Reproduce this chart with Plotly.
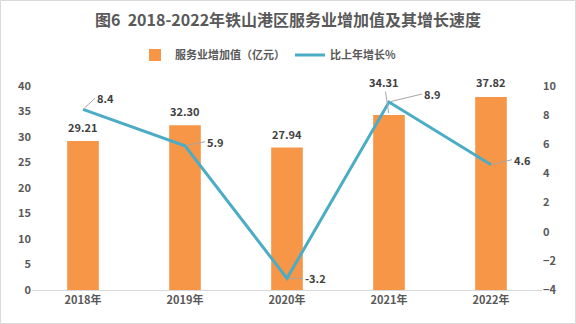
import plotly.graph_objects as go

years = ["2018年", "2019年", "2020年", "2021年", "2022年"]
value_added = [29.21, 32.30, 27.94, 34.31, 37.82]
growth = [8.4, 5.9, -3.2, 8.9, 4.6]

W, H = 576, 324
ML, MR, MT, MB = 32, 34, 86, 34
PW, PH = W - ML - MR, H - MT - MB

def px_x(px):
    return (px - ML) / PW

def px_y(py):
    return (H - MB - py) / PH

FONT = "Noto Sans CJK SC"
GRAY = "#595959"
LBL = "#404040"
BAR = "#F79646"
LINE = "#4BACC6"

def f(size, color=GRAY):
    return dict(size=size, color=color, family=FONT, weight="bold")

fig = go.Figure()
fig.add_trace(go.Bar(
    x=years, y=value_added, name="<b>服务业增加值（亿元）</b>",
    marker=dict(color=BAR, line=dict(width=0)), width=0.31,
    cliponaxis=False,
))
fig.add_trace(go.Scatter(
    x=years, y=growth, name="<b>比上年增长%</b>", yaxis="y2",
    mode="lines", line=dict(color=LINE, width=3),
))

# bar value labels (offsets in px)
bar_offsets = [(0, -14), (0, -14), (0, -14), (-5, -33), (0, -15)]
for xv, yv, (ax, ay) in zip(years, value_added, bar_offsets):
    if ay < -20:
        fig.add_annotation(
            x=xv, y=yv, xref="x", yref="y", text=f"{yv:.2f}",
            showarrow=True, arrowhead=0, arrowwidth=1, arrowcolor="#A6A6A6",
            ax=ax, ay=ay, standoff=2, font=f(11, LBL),
        )
    else:
        fig.add_annotation(
            x=xv, y=yv, xref="x", yref="y", text=f"{yv:.2f}",
            showarrow=False, yshift=-ay, xshift=ax, font=f(11, LBL),
        )

# leader-line labels for growth series (offsets in px)
offsets = [(12, -11), (20, -4), (16, 0), (33, -8), (21, -5)]
for xv, yv, (ax, ay) in zip(years, growth, offsets):
    fig.add_annotation(
        x=xv, y=yv, xref="x", yref="y2", text=f"{yv}",
        showarrow=True, arrowhead=0, arrowwidth=1, arrowcolor="#A6A6A6",
        ax=ax, ay=ay, xanchor="left", standoff=2,
        font=f(11, LBL),
    )

fig.add_shape(type="rect", xref="paper", yref="paper",
              x0=px_x(0.5), x1=px_x(575.5), y0=px_y(323.5), y1=px_y(0.5),
              line=dict(color="#D9D9D9", width=1), layer="below")

fig.update_layout(
    width=W, height=H,
    margin=dict(l=ML, r=MR, t=MT, b=MB),
    paper_bgcolor="white", plot_bgcolor="white",
    font=dict(family=FONT, color=GRAY, size=11),
    title=dict(text="<b>图6  2018-2022年铁山港区服务业增加值及其增长速度</b>",
               x=0.5, xanchor="center", y=1 - 20 / H, yanchor="middle",
               font=dict(size=16, color=GRAY, family=FONT)),
    legend=dict(orientation="h", x=px_x(268), xanchor="center", y=px_y(55), yanchor="middle",
                font=f(11), bgcolor="rgba(0,0,0,0)", itemwidth=30),
    showlegend=True,
    xaxis=dict(showline=True, linecolor="#D9D9D9", linewidth=1, ticks="",
               tickfont=f(11), showgrid=False),
    yaxis=dict(range=[0, 40], dtick=5, showgrid=False, zeroline=False,
               showline=False, ticks="", tickfont=f(11)),
    yaxis2=dict(range=[-4, 10], dtick=2, overlaying="y", side="right",
                showgrid=False, zeroline=False, showline=False, ticks="",
                tickfont=f(11)),
)

fig.write_html("out.html")
